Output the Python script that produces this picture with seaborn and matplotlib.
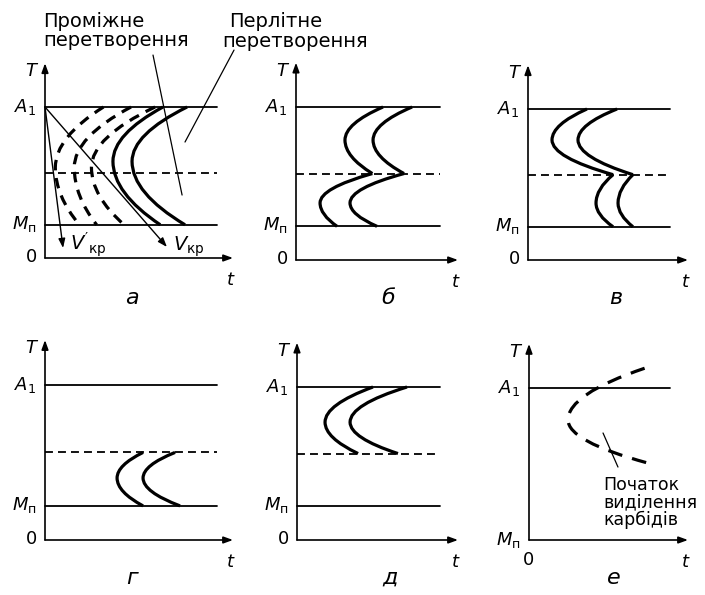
import numpy as np
import pandas as pd
import seaborn as sns
import matplotlib
matplotlib.use("Agg")
import matplotlib.pyplot as plt
from matplotlib.path import Path
from matplotlib.patches import PathPatch

sns.set_theme(style="white")
plt.rcParams['font.family'] = ['DejaVu Sans']
plt.rcParams['mathtext.fontset'] = 'custom'
plt.rcParams['mathtext.it'] = 'DejaVu Sans:italic'
plt.rcParams['mathtext.rm'] = 'DejaVu Sans'
plt.rcParams['text.color'] = 'black'

W, H = 705, 595

# ---- temperature levels (A1 = 10) ----
A1 = 10.0
MN = 2.2
MID = 5.65
T_TOP = 12.9

# ---- panel frames (pixels) ----
panel_letters = ['а', 'б', 'в', 'г', 'д', 'е']
frame_x0 = [45, 296, 528, 45, 297, 529]
frame_x1 = [217, 440, 670, 217, 440, 670]
frame_xarr = [233, 458, 688, 233, 458, 688]
frame_y0 = [258, 260, 260, 540, 540, 540]
frame_yA1 = [107, 107, 109, 385, 387, 388]
letter_x = [132, 388, 616, 132, 390, 614]
letter_y = [298, 298, 298, 578, 578, 578]
mid_line = [True, True, True, True, True, False]
mn_line = [True, True, True, True, True, False]

# ---- panel а ----
a_solid_top_t = [0.686, 0.826]
a_solid_nose_t = [0.395, 0.506]
a_solid_bot_t = [0.67, 0.814]
a_solid_nose_T = 6.4
a_dash_top_t = [0.34, 0.50, 0.64]
a_dash_nose_t = [0.06, 0.17, 0.27]
a_dash_bot_t = [0.20, 0.30, 0.46]
a_dash_nose_T = 6.0
v_crit_end = [0.709, 0.73]
v_crit2_end = [0.105, 0.66]

# ---- panel б ----
b_up_top_t = [0.604, 0.806]
b_up_nose_t = [0.34, 0.535]
b_up_nose_T = 7.84
b_cusp_t = [0.53, 0.75]
b_lo_nose_t = [0.167, 0.375]
b_lo_nose_T = 3.73
b_lo_bot_t = [0.285, 0.5625]

# ---- panel в ----
c_up_top_t = [0.415, 0.627]
c_up_nose_t = [0.169, 0.352]
c_up_nose_T = 7.95
c_cusp_t = [0.599, 0.739]
c_lo_nose_t = [0.479, 0.634]
c_lo_nose_T = 3.77
c_lo_bot_t = [0.599, 0.739]

# ---- panel г ----
d_top_t = [0.57, 0.756]
d_nose_t = [0.419, 0.57]
d_nose_T = 4.0
d_bot_t = [0.57, 0.785]

# ---- panel д ----
e_top_t = [0.531, 0.769]
e_nose_t = [0.196, 0.371]
e_nose_T = 7.7
e_bot_t = [0.427, 0.706]

# ---- panel е ----
f_curve = [(0.82, 11.3), (0.277, 7.9), (0.84, 5.07)]
f_leader = [(0.525, 7.04), (0.631, 4.8)]

# ---- annotations ----
lead_inter = [(0.628, 13.44), (0.797, 4.17)]
lead_pearl = [(1.099, 13.77), (0.814, 7.68)]
carbide_text = ['Початок', 'виділення', 'карбідів']
carbide_baselines = [490, 507, 525]

fig = plt.figure(figsize=(W / 100, H / 100), dpi=100)
fig.patch.set_facecolor('white')

LW_CURVE = 2.3
LW_AX = 1.2
LW_LEV = 1.3
K_SHAPE = 0.5


def add_panel(i):
    x0, x1, y0, ya = frame_x0[i], frame_x1[i], frame_y0[i], frame_yA1[i]
    ax = fig.add_axes([x0 / W, 1 - y0 / H, (x1 - x0) / W, (y0 - ya) / H])
    ax.set_xlim(0, 1)
    ax.set_ylim(0, 10)
    ax.axis('off')
    return ax


def hline(ax, T, dashed=False):
    df = pd.DataFrame({'t': [0.0, 1.0], 'T': [T, T]})
    ls = (0, (4.4, 2.8)) if dashed else '-'
    sns.lineplot(data=df, x='t', y='T', ax=ax, color='black', lw=LW_LEV,
                 linestyle=ls, estimator=None, sort=False, legend=False,
                 clip_on=False)


def seg(ax, p, q, lw=0.9):
    df = pd.DataFrame({'t': [p[0], q[0]], 'T': [p[1], q[1]]})
    sns.lineplot(data=df, x='t', y='T', ax=ax, color='black', lw=lw,
                 estimator=None, sort=False, legend=False, clip_on=False)


def arrow(ax, p, q, lw=LW_AX):
    ax.annotate('', xy=q, xytext=p, xycoords='data', textcoords='data',
                annotation_clip=False,
                arrowprops=dict(arrowstyle='-|>,head_length=0.55,head_width=0.2',
                                color='black', lw=lw, shrinkA=0, shrinkB=0,
                                mutation_scale=10))


def c_curve(ax, top, nose, bot, dashed=None, lw=LW_CURVE, k=K_SHAPE):
    c1 = (nose[0], nose[1] + k * (top[1] - nose[1]))
    c2 = (nose[0], nose[1] - k * (nose[1] - bot[1]))
    verts = [top, c1, nose, c2, bot]
    codes = [Path.MOVETO, Path.CURVE3, Path.CURVE3, Path.CURVE3, Path.CURVE3]
    ls = dashed if dashed is not None else '-'
    patch = PathPatch(Path(verts, codes), fill=False, edgecolor='black',
                      lw=lw, linestyle=ls, clip_on=False, capstyle='butt')
    ax.add_patch(patch)


def label(ax, txt, xy, dx, dy, ha='right', va='center', size=13):
    ax.annotate(txt, xy=xy, xycoords='data', xytext=(dx, dy),
                textcoords='offset pixels', ha=ha, va=va, fontsize=size,
                annotation_clip=False, color='black')


axes = []
for i in range(6):
    ax = add_panel(i)
    axes.append(ax)
    xarr = (frame_xarr[i] - frame_x0[i]) / (frame_x1[i] - frame_x0[i])
    arrow(ax, (0, 0), (xarr, 0))
    arrow(ax, (0, 0), (0, T_TOP))
    hline(ax, A1)
    if mn_line[i]:
        hline(ax, MN)
    if mid_line[i]:
        hline(ax, MID, dashed=True)
    label(ax, r'$T$', (0, T_TOP), -6, -8, ha='right', va='center')
    label(ax, r'$A_1$', (0, A1), -9, 0)
    if i < 5:
        label(ax, r'$M_{\mathrm{п}}$', (0, MN), -8, 1)
        label(ax, '0', (0, 0), -8, 1, size=13)
    else:
        label(ax, r'$M_{\mathrm{п}}$', (0, 0), -8, 0)
        label(ax, '0', (0, 0), 0, -20, ha='center', size=13)
    label(ax, r'$t$', (xarr, 0), -2, -22, ha='center')
    fig.text(letter_x[i] / W, 1 - letter_y[i] / H, panel_letters[i],
             ha='center', va='center', fontsize=16, style='italic',
             family='DejaVu Sans')

# panel а
ax = axes[0]
for tt, nt, bt in zip(a_solid_top_t, a_solid_nose_t, a_solid_bot_t):
    c_curve(ax, (tt, A1), (nt, a_solid_nose_T), (bt, MN))
for tt, nt, bt in zip(a_dash_top_t, a_dash_nose_t, a_dash_bot_t):
    c_curve(ax, (tt, A1), (nt, a_dash_nose_T), (bt, MN), dashed=(0, (3.3, 2.4)))
arrow(ax, (0, A1), tuple(v_crit_end), lw=1.0)
arrow(ax, (0, A1), tuple(v_crit2_end), lw=1.0)
ax.text(0.145, 0.5, r"$V'_{\mathrm{кр}}$", fontsize=14, ha='left', va='baseline')
ax.text(0.744, 0.5, r"$V_{\mathrm{кр}}$", fontsize=14, ha='left', va='baseline')
seg(ax, *lead_inter)
seg(ax, *lead_pearl)

# panel б
ax = axes[1]
for tt, nt, ct, n2, bt in zip(b_up_top_t, b_up_nose_t, b_cusp_t, b_lo_nose_t, b_lo_bot_t):
    c_curve(ax, (tt, A1), (nt, b_up_nose_T), (ct, MID))
    c_curve(ax, (ct, MID), (n2, b_lo_nose_T), (bt, MN))

# panel в
ax = axes[2]
for tt, nt, ct, n2, bt in zip(c_up_top_t, c_up_nose_t, c_cusp_t, c_lo_nose_t, c_lo_bot_t):
    c_curve(ax, (tt, A1), (nt, c_up_nose_T), (ct, MID))
    c_curve(ax, (ct, MID), (n2, c_lo_nose_T), (bt, MN))

# panel г
ax = axes[3]
for tt, nt, bt in zip(d_top_t, d_nose_t, d_bot_t):
    c_curve(ax, (tt, MID), (nt, d_nose_T), (bt, MN))

# panel д
ax = axes[4]
for tt, nt, bt in zip(e_top_t, e_nose_t, e_bot_t):
    c_curve(ax, (tt, A1), (nt, e_nose_T), (bt, MID))

# panel е
ax = axes[5]
c_curve(ax, f_curve[0], f_curve[1], f_curve[2], dashed=(0, (4.6, 3.2)), k=0.5)
seg(ax, *f_leader)

# top annotations
fs = 14
fig.text(43 / W, 1 - 27 / H, 'Проміжне', ha='left', va='baseline', fontsize=fs)
fig.text(43 / W, 1 - 46 / H, 'перетворення', ha='left', va='baseline', fontsize=fs)
fig.text(229 / W, 1 - 27 / H, 'Перлітне', ha='left', va='baseline', fontsize=fs)
fig.text(222 / W, 1 - 47 / H, 'перетворення', ha='left', va='baseline', fontsize=fs)
for txt, yb in zip(carbide_text, carbide_baselines):
    fig.text(603 / W, 1 - yb / H, txt, ha='left', va='baseline', fontsize=12.5)

fig.savefig('out.png', dpi=100, facecolor='white')
